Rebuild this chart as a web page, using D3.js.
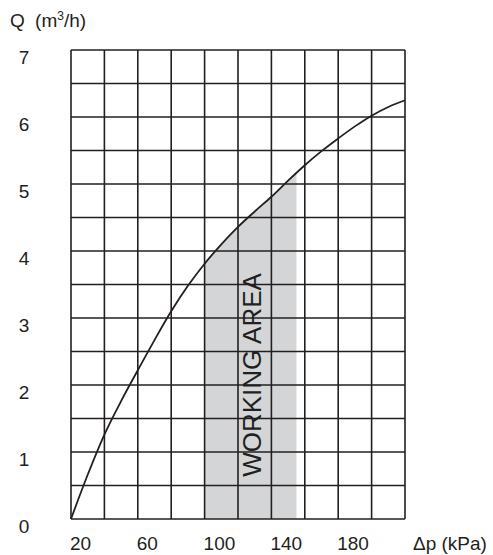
<!DOCTYPE html>
<html>
<head>
<meta charset="utf-8">
<script src="https://cdn.jsdelivr.net/npm/d3@7"></script>
<style>
    body { margin: 0; background: #fff; }
    text { font-family: "Liberation Sans", Arial, sans-serif; fill: #231f20; }
</style>
</head>
<body>
<svg id="chart" width="493" height="555"></svg>
<script>
// pressure drop (kPa) and flow (m3/h)
const pressure = [20, 30, 40, 50, 60, 70, 80, 90, 100, 110, 120, 130, 140, 150, 160, 170, 180, 190, 200, 210, 220];
const flow = [0, 0.66, 1.26, 1.76, 2.22, 2.67, 3.10, 3.48, 3.81, 4.10, 4.36, 4.59, 4.81, 5.05, 5.28, 5.49, 5.68, 5.86, 6.02, 6.15, 6.25];

const xTicks = [20, 60, 100, 140, 180];
const yTicks = [0, 1, 2, 3, 4, 5, 6, 7];
const xGrid = [20, 40, 60, 80, 100, 120, 140, 160, 180, 200, 220];
const yGrid = [0, 0.5, 1, 1.5, 2, 2.5, 3, 3.5, 4, 4.5, 5, 5.5, 6, 6.5, 7];
const workingRange = [100, 155];
const workingLabel = "WORKING AREA";

const svg = d3.select("#chart");
const ink = "#231f20";

let x = d3.scaleLinear().domain([20, 220]).range([71, 405]);
let y = d3.scaleLinear().domain([0, 7]).range([519, 50]);

let points = pressure.map((p, i) => [p, flow[i]]);

// shaded working area: area under the curve clipped to the working range
svg.append("clipPath").attr("id", "work-clip")
    .append("rect")
    .attr("x", x(workingRange[0])).attr("y", y(7))
    .attr("width", x(workingRange[1]) - x(workingRange[0]))
    .attr("height", y(0) - y(7));

let area = d3.area()
    .x(d => x(d[0]))
    .y0(y(0))
    .y1(d => y(d[1]))
    .curve(d3.curveCatmullRom);

svg.append("path")
    .datum(points)
    .attr("d", area)
    .attr("fill", "#d4d5d7")
    .attr("clip-path", "url(#work-clip)");

// grid
svg.append("g").selectAll("line").data(xGrid).join("line")
    .attr("x1", d => x(d)).attr("x2", d => x(d))
    .attr("y1", y(0)).attr("y2", y(7))
    .attr("stroke", ink).attr("stroke-width", 1.6);

svg.append("g").selectAll("line").data(yGrid).join("line")
    .attr("x1", x(20)).attr("x2", x(220))
    .attr("y1", d => y(d)).attr("y2", d => y(d))
    .attr("stroke", ink).attr("stroke-width", 1.6);

// label inside the working area
let midX = (x(workingRange[0]) + x(workingRange[1])) / 2;
svg.append("text")
    .attr("transform", `translate(${midX + 10},${y(2.15)}) rotate(-90)`)
    .attr("text-anchor", "middle")
    .attr("font-size", 26)
    .text(workingLabel);

// the curve
let line = d3.line()
    .x(d => x(d[0]))
    .y(d => y(d[1]))
    .curve(d3.curveCatmullRom);

svg.append("path")
    .datum(points)
    .attr("d", line)
    .attr("fill", "none")
    .attr("stroke", ink)
    .attr("stroke-width", 1.8);

// tick labels, drawn just below / right of their grid lines
svg.append("g").selectAll("text").data(xTicks).join("text")
    .attr("x", d => x(d) - 1)
    .attr("y", 550)
    .attr("font-size", 19)
    .text(d => d);

svg.append("g").selectAll("text").data(yTicks).join("text")
    .attr("x", 24)
    .attr("y", d => y(d) + 13.5)
    .attr("text-anchor", "middle")
    .attr("font-size", 19)
    .text(d => d);

// axis titles
svg.append("text")
    .attr("x", 413).attr("y", 550)
    .attr("font-size", 19)
    .text("Δp (kPa)");

let qTitle = svg.append("text")
    .attr("x", 10).attr("y", 27)
    .attr("font-size", 19);
qTitle.append("tspan").text("Q");
qTitle.append("tspan").attr("dx", 5).text(" (m");
qTitle.append("tspan").attr("font-size", 12).attr("dy", -7).text("3");
qTitle.append("tspan").attr("dy", 7).text("/h)");
</script>
</body>
</html>
